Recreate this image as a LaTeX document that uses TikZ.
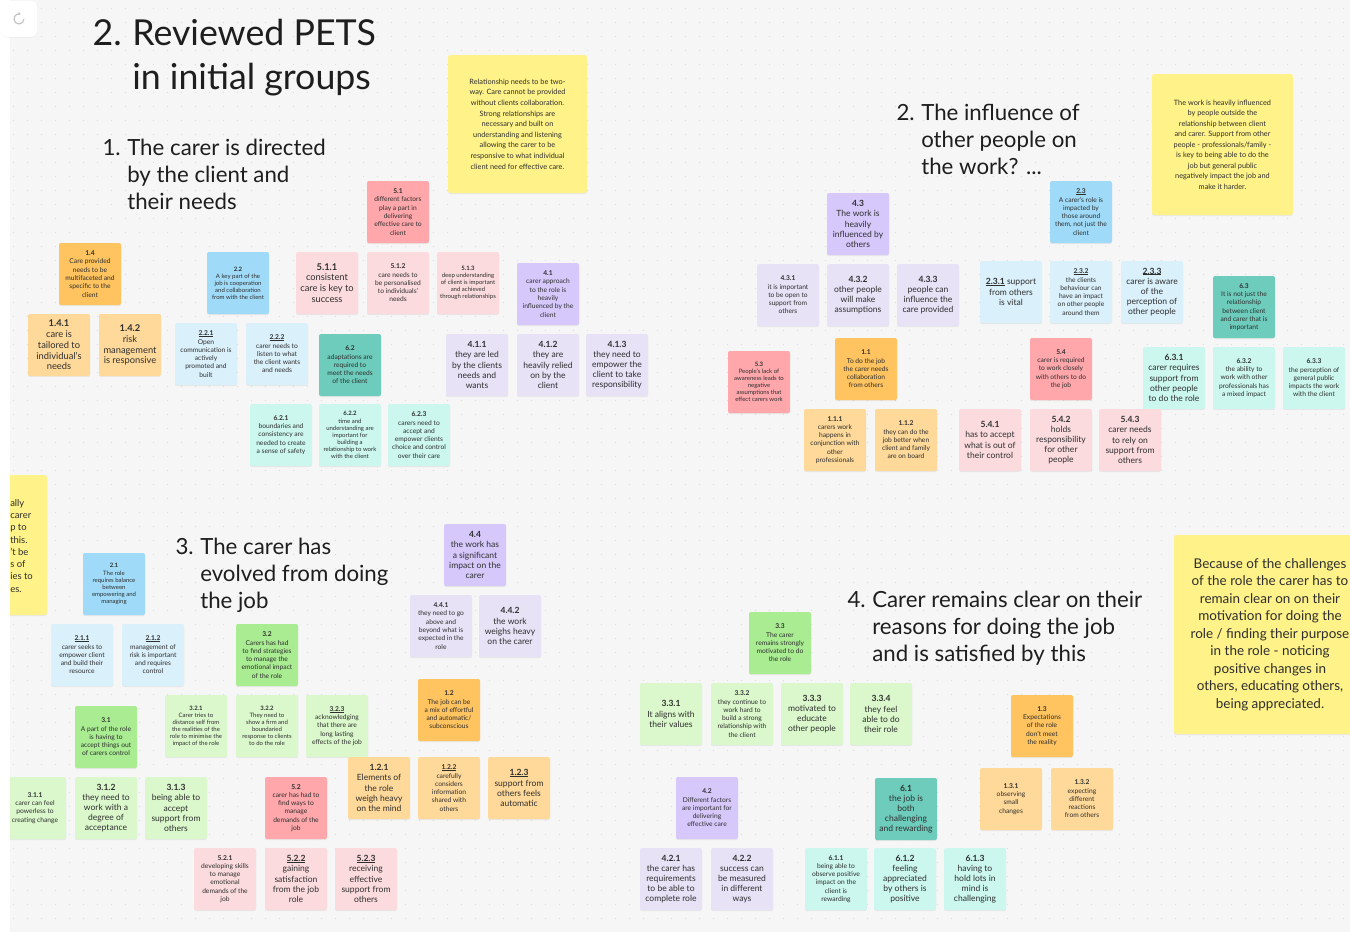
\documentclass[tikz,border=0pt]{standalone}
\usepackage{fontspec}
\setmainfont{Lato}
\usetikzlibrary{shadows,patterns.meta,arrows.meta}
\definecolor{board}{HTML}{F6F6F6}
\definecolor{dotc}{HTML}{DADADA}
\definecolor{od}{HTML}{FFC35F}
\definecolor{ol}{HTML}{FFD999}
\definecolor{bd}{HTML}{9FDBF8}
\definecolor{bl}{HTML}{DAF0FB}
\definecolor{gd}{HTML}{A9EC92}
\definecolor{gl}{HTML}{DBF8CC}
\definecolor{pd}{HTML}{D7C8FC}
\definecolor{pl}{HTML}{E7E2F6}
\definecolor{rd}{HTML}{FFA7AB}
\definecolor{rl}{HTML}{FBDBDE}
\definecolor{td}{HTML}{6ECCBC}
\definecolor{tl}{HTML}{CBF7EF}
\definecolor{yel}{HTML}{FEF288}
\definecolor{ink}{HTML}{2E2E2E}
\definecolor{titlec}{HTML}{1E1E1E}
\tikzset{
  note/.style={rectangle, rounded corners=1.5pt, minimum width=46.5pt, minimum height=46.5pt,
    inner sep=1pt, align=center, text=ink,
    drop shadow={opacity=0.12, shadow xshift=0pt, shadow yshift=-0.8pt}},
  XL/.style={font=\fontsize{7}{8.1}\selectfont},
  L/.style={font=\fontsize{6.4}{7.6}\selectfont},
  M/.style={font=\fontsize{5}{6.2}\selectfont},
  S/.style={font=\fontsize{4.5}{5.3}\selectfont},
  yellownote/.style={rectangle, rounded corners=2pt, fill=yel, align=center, text=ink,
    drop shadow={opacity=0.12, shadow xshift=0pt, shadow yshift=-0.8pt}},
  heading/.style={anchor=base west, inner sep=0pt, text=titlec},
}
\newcommand\ul[1]{\setbox0\hbox{#1}\rlap{\rule[-0.45pt]{\wd0}{0.3pt}}\box0}
\newcommand\sticky[7]{\node[note,fill=#4,#5] (#1) at (#2+31,#3+31) {\textbf{#6}\\#7};}
% #1 name, #2 number right x, #3 text x, #4 baseline y, #5 font, #6 number, #7 lines
\newcommand\ttl[7]{\node[heading,anchor=base east,font=#5] (#1n) at (#2,#4) {#6};
  \node[heading,font=#5] (#1) at (#3,#4) {\begin{tabular}[t]{@{}l@{}}#7\end{tabular}};}
\begin{document}
\begin{tikzpicture}[x=0.75pt,y=-0.75pt]
\useasboundingbox (0,0) rectangle (1350,932);
\fill[white] (0,0) rectangle (1350,932);
\fill[board] (10,0) rectangle (1350,932);
\fill[pattern={Dots[distance=10.5pt, radius=0.45pt]}, pattern color=dotc] (10,0) rectangle (1350,932);
\begin{scope}
\clip (10,0) rectangle (1350,932);
% ---------- headings ----------
\ttl{t0}{122}{132}{45}{\fontsize{26.8}{33}\selectfont}{2.}{Reviewed PETS\\in initial groups}
\ttl{t1}{121}{127}{155}{\fontsize{16.7}{20.6}\selectfont}{1.}{The carer is directed\\by the client and\\their needs}
\ttl{t2}{915}{921}{120}{\fontsize{16.7}{20.6}\selectfont}{2.}{The influence of\\other people on\\the work? ...}
\ttl{t3}{194}{200}{554}{\fontsize{16.7}{20.6}\selectfont}{3.}{The carer has\\evolved from doing\\the job}
\ttl{t4}{866}{872}{607}{\fontsize{16.7}{20.6}\selectfont}{4.}{Carer remains clear on their\\reasons for doing the job\\and is satisfied by this}
% ---------- yellow notes ----------
\node[yellownote, minimum width=104.25pt, minimum height=103.5pt, font=\fontsize{5.5}{7.95}\selectfont] (y1) at (517.5,124)
 {Relationship needs to be two-\\way. Care cannot be provided\\without clients collaboration.\\Strong relationships are\\necessary and built on\\understanding and listening\\allowing the carer to be\\responsive to what individual\\client need for effective care.};
\node[yellownote, minimum width=105.75pt, minimum height=105.75pt, font=\fontsize{5.5}{7.9}\selectfont] (y2) at (1222.5,144.5)
 {The work is heavily influenced\\by people outside the\\relationship between client\\and carer. Support from other\\people - professionals/family -\\is key to being able to do the\\job but general public\\negatively impact the job and\\make it harder.};
\node[yellownote, minimum width=144pt, minimum height=149.25pt, font=\fontsize{10.1}{13.1}\selectfont] (y3) at (1270,634.5)
 {Because of the challenges\\of the role the carer has to\\remain clear on on their\\motivation for doing the\\role / finding their purpose\\in the role - noticing\\positive changes in\\others, educating others,\\being appreciated.};
\node[yellownote, minimum width=102.75pt, minimum height=105pt] (y4) at (-21.5,545) {};
\node[anchor=north west, inner sep=0pt, align=left, text=ink, font=\fontsize{7.1}{9.2}\selectfont] (y4t) at (10,499)
 {ally\\carer\\p to\\this.\\'t be\\s of\\ies to\\es.};
% ---------- group 1 ----------
\sticky{n14}{59}{243}{od}{M}{1.4}{Care provided\\needs to be\\multifaceted and\\specific to the\\client}
\sticky{n141}{28}{314}{ol}{XL}{1.4.1}{care is\\tailored to\\individual's\\needs}
\sticky{n142}{99}{314}{ol}{XL}{1.4.2}{risk\\management\\is responsive}
\sticky{n22}{207}{252}{bd}{S}{2.2}{A key part of the\\job is cooperation\\and collaboration\\from with the client}
\sticky{n221}{175}{323}{bl}{M}{\ul{2.2.1}}{Open\\communication is\\actively\\promoted and\\built}
\sticky{n222}{246}{323}{bl}{M}{\ul{2.2.2}}{carer needs to\\listen to what\\the client wants\\and needs}
\sticky{n62}{319}{334}{td}{M}{6.2}{adaptations are\\required to\\meet the needs\\of the client}
\sticky{n621}{250}{404}{tl}{M}{6.2.1}{boundaries and\\consistency are\\needed to create\\a sense of safety}
\sticky{n622}{319}{404}{tl}{S}{6.2.2}{time and\\understanding are\\important for\\building a\\relationship to work\\with the client}
\sticky{n623}{388}{404}{tl}{M}{6.2.3}{carers need to\\accept and\\empower clients\\choice and control\\over their care}
\sticky{n51}{367}{181}{rd}{M}{5.1}{different factors\\play a part in\\delivering\\effective care to\\client}
\sticky{n511}{296}{252}{rl}{XL}{5.1.1}{consistent\\care is key to\\success}
\sticky{n512}{367}{252}{rl}{M}{5.1.2}{care needs to\\be personalised\\to individuals'\\needs}
\sticky{n513}{437}{252}{rl}{S}{5.1.3}{deep understanding\\of client is important\\and achieved\\through relationships}
\sticky{n41}{517}{263}{pd}{M}{4.1}{carer approach\\to the role is\\heavily\\influenced by the\\client}
\sticky{n411}{446}{334}{pl}{L}{4.1.1}{they are led\\by the clients\\needs and\\wants}
\sticky{n412}{517}{334}{pl}{L}{4.1.2}{they are\\heavily relied\\on by the\\client}
\sticky{n413}{586}{334}{pl}{L}{4.1.3}{they need to\\empower the\\client to take\\responsibility}
% ---------- group 2 ----------
\sticky{n43}{827}{193}{pd}{L}{4.3}{The work is\\heavily\\influenced by\\others}
\sticky{n431}{757}{264}{pl}{M}{4.3.1}{it is important\\to be open to\\support from\\others}
\sticky{n432}{827}{264}{pl}{L}{4.3.2}{other people\\will make\\assumptions}
\sticky{n433}{897}{264}{pl}{L}{4.3.3}{people can\\influence the\\care provided}
\sticky{n23}{1050}{181}{bd}{M}{\ul{2.3}}{A carer's role is\\impacted by\\those around\\them, not just the\\client}
\node[note,fill=bl,L] (n231) at (980+31,261+31) {\textbf{\ul{2.3.1}} support\\from others\\is vital};
\sticky{n232}{1050}{261}{bl}{M}{\ul{2.3.2}}{the clients\\behaviour can\\have an impact\\on other people\\around them}
\sticky{n233}{1121}{261}{bl}{L}{\ul{2.3.3}}{carer is aware\\of the\\perception of\\other people}
\sticky{n63}{1213}{276}{td}{M}{6.3}{It is not just the\\relationship\\between client\\and carer that is\\important}
\sticky{n631}{1143}{347}{tl}{L}{6.3.1}{carer requires\\support from\\other people\\to do the role}
\sticky{n632}{1213}{347}{tl}{M}{6.3.2}{the ability to\\work with other\\professionals has\\a mixed impact}
\sticky{n633}{1283}{347}{tl}{M}{6.3.3}{the perception of\\general public\\impacts the work\\with the client}
\sticky{n53}{728}{351}{rd}{S}{5.3}{People's lack of\\awareness leads to\\negative\\assumptions that\\effect carers work}
\sticky{n11}{835}{338}{od}{M}{1.1}{To do the job\\the carer needs\\collaboration\\from others}
\sticky{n111}{804}{409}{ol}{M}{1.1.1}{carers work\\happens in\\conjunction with\\other\\professionals}
\sticky{n112}{875}{409}{ol}{M}{1.1.2}{they can do the\\job better when\\client and family\\are on board}
\sticky{n54}{1030}{338}{rd}{M}{5.4}{carer is required\\to work closely\\with others to do\\the job}
\sticky{n541}{959}{409}{rl}{L}{5.4.1}{has to accept\\what is out of\\their control}
\sticky{n542}{1030}{409}{rl}{L}{5.4.2}{holds\\responsibility\\for other\\people}
\sticky{n543}{1099}{409}{rl}{L}{5.4.3}{carer needs\\to rely on\\support from\\others}
% ---------- group 3 ----------
\sticky{n21}{83}{553}{bd}{S}{2.1}{The role\\requires balance\\between\\empowering and\\managing}
\sticky{n211}{51}{624}{bl}{M}{\ul{2.1.1}}{carer seeks to\\empower client\\and build their\\resource}
\sticky{n212}{122}{624}{bl}{M}{\ul{2.1.2}}{management of\\risk is important\\and requires\\control}
\sticky{n32}{236}{624}{gd}{M}{3.2}{Carers has had\\to find strategies\\to manage the\\emotional impact\\of the role}
\sticky{n31}{75}{706}{gd}{M}{3.1}{A part of the role\\is having to\\accept things out\\of carers control}
\sticky{n321}{165}{695}{gl}{S}{3.2.1}{Carer tries to\\distance self from\\the realities of the\\role to minimise the\\impact of the role}
\sticky{n322}{236}{695}{gl}{S}{3.2.2}{They need to\\show a firm and\\boundaried\\response to clients\\to do the role}
\sticky{n323}{306}{695}{gl}{M}{\ul{3.2.3}}{acknowledging\\that there are\\long lasting\\effects of the job}
\sticky{n311}{4}{777}{gl}{M}{3.1.1}{carer can feel\\powerless to\\creating change}
\sticky{n312}{75}{777}{gl}{L}{3.1.2}{they need to\\work with a\\degree of\\acceptance}
\sticky{n313}{145}{777}{gl}{L}{3.1.3}{being able to\\accept\\support from\\others}
\sticky{n52}{265}{777}{rd}{M}{5.2}{carer has had to\\find ways to\\manage\\demands of the\\job}
\sticky{n521}{194}{848}{rl}{M}{5.2.1}{developing skills\\to manage\\emotional\\demands of the\\job}
\sticky{n522}{265}{848}{rl}{L}{\ul{5.2.2}}{gaining\\satisfaction\\from the job\\role}
\sticky{n523}{335}{848}{rl}{L}{\ul{5.2.3}}{receiving\\effective\\support from\\others}
\sticky{n44}{444}{524}{pd}{L}{4.4}{the work has\\a significant\\impact on the\\carer}
\sticky{n441}{410}{595}{pl}{M}{4.4.1}{they need to go\\above and\\beyond what is\\expected in the\\role}
\sticky{n442}{479}{595}{pl}{L}{4.4.2}{the work\\weighs heavy\\on the carer}
\sticky{n12}{418}{679}{od}{M}{1.2}{The job can be\\a mix of effortful\\and automatic/\\subconscious}
\sticky{n121}{348}{757}{ol}{L}{1.2.1}{Elements of\\the role\\weigh heavy\\on the mind}
\sticky{n122}{418}{757}{ol}{M}{\ul{1.2.2}}{carefully\\considers\\information\\shared with\\others}
\sticky{n123}{488}{757}{ol}{L}{\ul{1.2.3}}{support from\\others feels\\automatic}
% ---------- group 4 ----------
\sticky{n33}{749}{612}{gd}{M}{3.3}{The carer\\remains strongly\\motivated to do\\the role}
\sticky{n331}{640}{683}{gl}{L}{3.3.1}{It aligns with\\their values}
\sticky{n332}{711}{683}{gl}{M}{3.3.2}{they continue to\\work hard to\\build a strong\\relationship with\\the client}
\sticky{n333}{781}{683}{gl}{L}{3.3.3}{motivated to\\educate\\other people}
\sticky{n334}{850}{683}{gl}{L}{3.3.4}{they feel\\able to do\\their role}
\sticky{n42}{676}{777}{pd}{M}{4.2}{Different factors\\are important for\\delivering\\effective care}
\sticky{n421}{640}{848}{pl}{L}{4.2.1}{the carer has\\requirements\\to be able to\\complete role}
\sticky{n422}{711}{848}{pl}{L}{4.2.2}{success can\\be measured\\in different\\ways}
\sticky{n61}{875}{778}{td}{L}{6.1}{the job is\\both\\challenging\\and rewarding}
\sticky{n611}{805}{848}{tl}{M}{6.1.1}{being able to\\observe positive\\impact on the\\client is\\rewarding}
\sticky{n612}{874}{848}{tl}{L}{6.1.2}{feeling\\appreciated\\by others is\\positive}
\sticky{n613}{944}{848}{tl}{L}{6.1.3}{having to\\hold lots in\\mind is\\challenging}
\sticky{n13}{1011}{695}{od}{M}{1.3}{Expectations\\of the role\\don't meet\\the reality}
\sticky{n131}{980}{768}{ol}{M}{1.3.1}{observing\\small\\changes}
\sticky{n132}{1051}{768}{ol}{M}{1.3.2}{expecting\\different\\reactions\\from others}
\end{scope}
% ---------- corner icon ----------
\node[fill=white, rounded corners=4pt, minimum width=27pt, minimum height=27pt, inner sep=0pt,
  drop shadow={opacity=0.08, shadow xshift=0pt, shadow yshift=-0.6pt}] (icon) at (19,19) {};
\draw[black!25, line width=0.8pt, -{Stealth[length=2pt,width=2.5pt]}] (icon.center) ++(5,0) arc[start angle=0, end angle=290, radius=5];
\end{tikzpicture}
\end{document}
